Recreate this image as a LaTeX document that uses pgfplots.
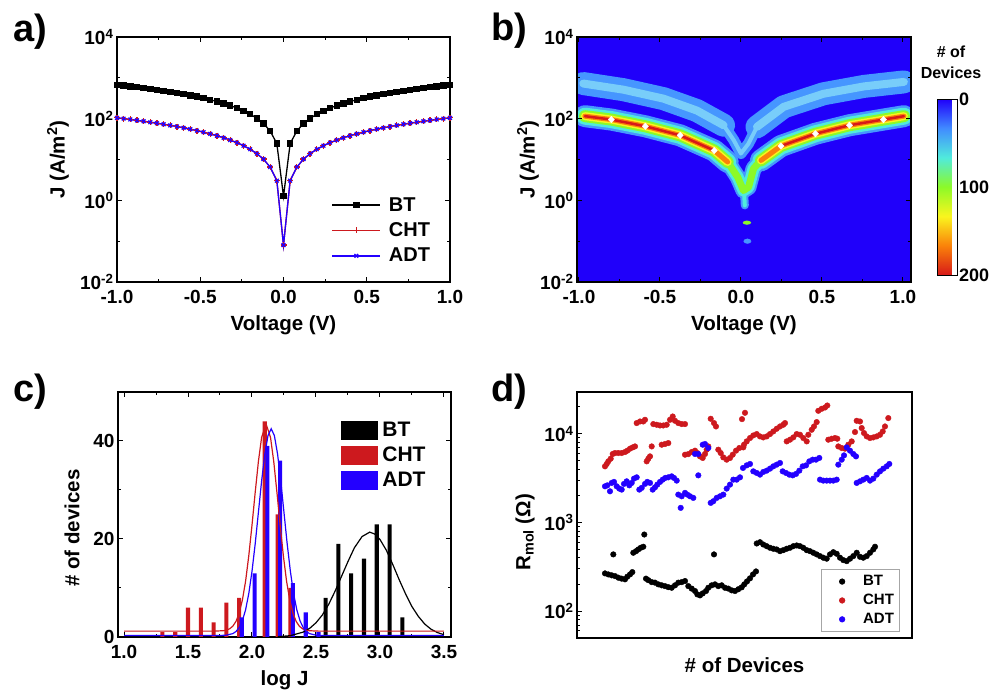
\documentclass[border=0pt]{standalone}
\usepackage{fontspec}
\setmainfont{Liberation Sans}
\usepackage{pgfplots}
\usepackage{pgfplotstable}
\pgfplotsset{compat=1.18}
\definecolor{cred}{RGB}{205,25,30}
\definecolor{cblue}{RGB}{35,0,255}
\definecolor{hmblue}{RGB}{32,0,250}
\definecolor{hmlb}{RGB}{70,150,255}
\definecolor{hmlb2}{RGB}{120,205,250}
\definecolor{hmcyan}{RGB}{80,235,220}
\definecolor{hmgreen}{RGB}{140,250,40}
\definecolor{hmyellow}{RGB}{250,245,30}
\definecolor{hmorange}{RGB}{250,130,10}
\definecolor{hmred}{RGB}{215,25,25}
\pgfplotsset{
  colormap={hmrev}{rgb255=(215,25,25) rgb255=(250,130,10) rgb255=(250,245,30) rgb255=(140,250,40) rgb255=(80,235,220) rgb255=(65,140,255) rgb255=(32,0,250)},
  panel/.style={scale only axis, width=333pt, height=245pt,
    axis line style={line width=1.2pt}, tick style={black, line width=1pt},
    major tick length=5pt, minor tick length=3pt, tick align=inside,
    /pgf/number format/assume math mode=true,
    every tick label/.append style={font=\fontsize{19}{21}\selectfont\bfseries},
    xticklabel style={yshift=-5pt},
    label style={font=\fontsize{20.5}{23}\selectfont\bfseries}},
  band/.style={no markers, line cap=round, line join=round},
}
% panel b: density bands read from the map (V, J)
\pgfplotstableread{
V J
-0.963 115
-0.80 95
-0.59 65
-0.375 39
-0.165 16.6
-0.082 8.7
}\bandL
\pgfplotstableread{
V J
0.124 9.5
0.247 21.4
0.46 42.7
0.67 69
0.88 95
1.006 115
}\bandR
\pgfplotstableread{
V J
-0.165 16.6
-0.082 8.7
-0.02 3.7
0.016 1.74
0.047 2.1
0.078 6.0
0.124 9.5
0.247 21.4
}\bandC
\pgfplotstableread{
V J
0.018 1.9
0.024 0.75
}\stem
\pgfplotstableread{
V J
-0.973 724
-0.726 513
-0.478 309
-0.272 158
-0.107 69
}\upL
\pgfplotstableread{
V J
0.099 63
0.264 195
0.51 407
0.76 617
1.006 794
}\upR
\pgfplotstableread{
V J
-0.107 69
-0.045 30
0.0 14
0.047 24.5
0.099 63
}\upC
\begin{document}
\begin{tikzpicture}
\useasboundingbox (0,0) rectangle (997pt,690pt);
\node[anchor=base west, font=\fontsize{38}{40}\selectfont\bfseries] at (10pt,648pt) {a)};
\node[anchor=base west, font=\fontsize{38}{40}\selectfont\bfseries] at (488pt,649pt) {b)};
\node[anchor=base west, font=\fontsize{38}{40}\selectfont\bfseries] at (10pt,288pt) {c)};
\node[anchor=base west, font=\fontsize{38}{40}\selectfont\bfseries] at (488pt,288pt) {d)};

% ---------------- panel a
\begin{axis}[panel, at={(117pt,408pt)}, anchor=south west,
  ymode=log, xmin=-1, xmax=1, ymin=1e-2, ymax=1e4,
  xtick={-1,-0.5,0,0.5,1}, xticklabels={-1.0,-0.5,0.0,0.5,1.0},
  minor xtick={-0.75,-0.25,0.25,0.75},
  ytick={1e-2,1,1e2,1e4},
  yticklabels={10\textsuperscript{-2},10\textsuperscript{0},10\textsuperscript{2},10\textsuperscript{4}},
  minor ytick={1e-1,1e1,1e3},
  xlabel={Voltage (V)}, ylabel={J (A/m\textsuperscript{2})},
  xlabel style={at={(axis description cs:0.5,-0.1755)}, anchor=center},
  ylabel style={at={(axis description cs:-0.177,0.5)}, anchor=center},
  legend style={draw=none, fill=none, at={(0.635,0.362)}, anchor=north west,
    font=\fontsize{20}{22}\selectfont\bfseries, row sep=6pt, legend cell align=left,
    /tikz/every odd column/.append style={column sep=6pt}},
  legend image code/.code={\draw[mark repeat=2,mark phase=2,#1] plot coordinates {(0pt,0pt) (24pt,0pt) (48pt,0pt)};},
]
\addplot[black, line width=1.3pt, mark=square*, mark size=2.6pt] coordinates {
(-1.00,676)(-0.96,647)(-0.92,621)(-0.88,592)(-0.84,565)(-0.80,537)(-0.76,509)(-0.72,482)(-0.68,455)(-0.64,427)(-0.60,399)(-0.56,372)(-0.52,344)(-0.48,317)(-0.44,290)(-0.40,263)(-0.36,236)(-0.32,209)(-0.28,182)(-0.24,155)(-0.20,129)(-0.16,102)(-0.12,76)(-0.08,50)(-0.04,24.5)(0,1.26)
(0.04,24.5)(0.08,50)(0.12,76)(0.16,102)(0.20,129)(0.24,155)(0.28,182)(0.32,209)(0.36,236)(0.40,263)(0.44,290)(0.48,317)(0.52,344)(0.56,372)(0.60,399)(0.64,427)(0.68,455)(0.72,482)(0.76,509)(0.80,537)(0.84,565)(0.88,592)(0.92,621)(0.96,647)(1.00,676)};
\addlegendentry{BT}
\addplot[cred, line width=1.3pt, mark=+, mark size=3pt] coordinates {
(-1.00,104.7)(-0.96,100)(-0.92,95.5)(-0.88,90.8)(-0.84,86.3)(-0.80,81.8)(-0.76,77.4)(-0.72,72.9)(-0.68,68.5)(-0.64,64.1)(-0.60,59.7)(-0.56,55.3)(-0.52,51.0)(-0.48,46.7)(-0.44,42.4)(-0.40,38.2)(-0.36,34.0)(-0.32,29.9)(-0.28,25.8)(-0.24,21.8)(-0.20,17.8)(-0.16,13.9)(-0.12,10.2)(-0.08,6.5)(-0.04,3.03)(0,0.08)
(0.04,3.03)(0.08,6.5)(0.12,10.2)(0.16,13.9)(0.20,17.8)(0.24,21.8)(0.28,25.8)(0.32,29.9)(0.36,34.0)(0.40,38.2)(0.44,42.4)(0.48,46.7)(0.52,51.0)(0.56,55.3)(0.60,59.7)(0.64,64.1)(0.68,68.5)(0.72,72.9)(0.76,77.4)(0.80,81.8)(0.84,86.3)(0.88,90.8)(0.92,95.5)(0.96,100)(1.00,104.7)};
\addlegendentry{CHT}
\addplot[cblue, line width=1.3pt, mark=x, mark size=2.6pt] coordinates {
(-1.00,104.7)(-0.96,100)(-0.92,95.5)(-0.88,90.8)(-0.84,86.3)(-0.80,81.8)(-0.76,77.4)(-0.72,72.9)(-0.68,68.5)(-0.64,64.1)(-0.60,59.7)(-0.56,55.3)(-0.52,51.0)(-0.48,46.7)(-0.44,42.4)(-0.40,38.2)(-0.36,34.0)(-0.32,29.9)(-0.28,25.8)(-0.24,21.8)(-0.20,17.8)(-0.16,13.9)(-0.12,10.2)(-0.08,6.5)(-0.04,3.03)(0,0.08)
(0.04,3.03)(0.08,6.5)(0.12,10.2)(0.16,13.9)(0.20,17.8)(0.24,21.8)(0.28,25.8)(0.32,29.9)(0.36,34.0)(0.40,38.2)(0.44,42.4)(0.48,46.7)(0.52,51.0)(0.56,55.3)(0.60,59.7)(0.64,64.1)(0.68,68.5)(0.72,72.9)(0.76,77.4)(0.80,81.8)(0.84,86.3)(0.88,90.8)(0.92,95.5)(0.96,100)(1.00,104.7)};
\addlegendentry{ADT}
\end{axis}

% ---------------- panel b
\begin{axis}[panel, width=334pt, at={(577pt,408pt)}, anchor=south west,
  ymode=log, xmin=-1.012, xmax=1.05, ymin=1e-2, ymax=1e4,
  axis background/.style={fill=hmblue}, axis on top,
  xtick={-1,-0.5,0,0.5,1}, xticklabels={-1.0,-0.5,0.0,0.5,1.0},
  minor xtick={-0.75,-0.25,0.25,0.75},
  ytick={1e-2,1,1e2,1e4},
  yticklabels={10\textsuperscript{-2},10\textsuperscript{0},10\textsuperscript{2},10\textsuperscript{4}},
  minor ytick={1e-1,1e1,1e3},
  xlabel={Voltage (V)}, ylabel={J (A/m\textsuperscript{2})},
  xlabel style={at={(axis description cs:0.5,-0.1755)}, anchor=center},
  ylabel style={at={(axis description cs:-0.147,0.5)}, anchor=center},
  colormap name=hmrev, point meta min=0, point meta max=200, colorbar,
  colorbar style={at={(parent axis.north east)}, anchor=north west, xshift=18pt, yshift=-62pt,
    scale only axis, width=20pt, height=176pt, ytick={0,100,200}, yticklabels={200,100,0},
    major tick length=0pt, axis line style={line width=0.6pt},
    yticklabel style={font=\fontsize{18}{20}\selectfont\bfseries, xshift=-2pt}},
]
% upper band (BT)
\addplot[band, hmlb, line width=23pt] table {\upL};
\addplot[band, hmlb, line width=23pt] table {\upR};
\addplot[band, hmlb, line width=11pt] table {\upC};
\addplot[band, hmlb2, line width=8pt] table {\upL};
\addplot[band, hmlb2, line width=8pt] table {\upR};
\addplot[band, hmlb2, line width=4pt] table {\upC};
% main band
\addplot[band, hmlb, line width=8pt] table {\stem};
\addplot[band, hmlb, line width=16pt] table {\bandC};
\addplot[band, hmlb, line width=22pt] table {\bandL};
\addplot[band, hmlb, line width=22pt] table {\bandR};
\addplot[band, hmcyan, line width=4pt] table {\stem};
\addplot[band, hmcyan, line width=12pt] table {\bandC};
\addplot[band, hmcyan, line width=17pt] table {\bandL};
\addplot[band, hmcyan, line width=17pt] table {\bandR};
\addplot[band, hmgreen, line width=7pt] table {\bandC};
\addplot[band, hmgreen, line width=12pt] table {\bandL};
\addplot[band, hmgreen, line width=12pt] table {\bandR};
\addplot[band, hmyellow, line width=8pt] table {\bandL};
\addplot[band, hmyellow, line width=8pt] table {\bandR};
\addplot[band, hmorange, line width=5pt] table {\bandL};
\addplot[band, hmorange, line width=5pt] table {\bandR};
\addplot[band, hmred, line width=2.5pt] coordinates {(-0.963,115)(-0.80,95)(-0.59,65)(-0.375,39)(-0.165,16.6)};
\addplot[band, hmred, line width=2.5pt] coordinates {(0.247,21.4)(0.46,42.7)(0.67,69)(0.88,95)(1.006,115)};
\addplot[only marks, mark=diamond*, mark size=3.2pt, white, mark options={draw=white, xscale=1.3}] coordinates {
(-0.80,95)(-0.59,65)(-0.375,39)(-0.165,16.6)(0.247,21.4)(0.46,42.7)(0.67,69)(0.88,95)};
% isolated spots
\addplot[only marks, mark=*, mark size=2.3pt, hmlb, mark options={xscale=1.6}] coordinates {(0.04,0.1)};
\addplot[only marks, mark=*, mark size=1.8pt, hmgreen, mark options={xscale=2.2}] coordinates {(0.037,0.284)};
\end{axis}
\node[align=center, font=\fontsize{16}{21}\selectfont\bfseries] at (951pt,628pt) {\# of\\Devices};

% ---------------- panel c
\begin{axis}[panel, at={(118pt,53pt)}, anchor=south west,
  xmin=0.953, xmax=3.555, ymin=0, ymax=50,
  xtick={1,1.5,2,2.5,3,3.5}, minor xtick={1.25,1.75,2.25,2.75,3.25},
  ytick={0,20,40}, minor ytick={10,30},
  xticklabel style={/pgf/number format/.cd, fixed, fixed zerofill, precision=1},
  xlabel={log J}, ylabel={\# of devices},
  xlabel style={at={(axis description cs:0.5,-0.1755)}, anchor=center},
  ylabel style={at={(axis description cs:-0.138,0.445)}, anchor=center},
  legend style={draw=none, fill=none, at={(0.66,0.895)}, anchor=north west,
    font=\fontsize{21}{23}\selectfont\bfseries, row sep=5pt, legend cell align=left,
    /tikz/every odd column/.append style={column sep=3pt}},
]
\addplot[ybar, bar width=0.032, bar shift=0pt, fill=black, draw=none, forget plot] coordinates {
(2.575,8)(2.675,19)(2.775,13)(2.875,16)(2.975,23)(3.075,23)(3.175,4)};
\addplot[ybar, bar width=0.032, bar shift=0pt, fill=cred, draw=none, forget plot] coordinates {
(1.3,1)(1.4,1)(1.5,6)(1.6,6)(1.7,3)(1.8,7)(1.9,8)(2.1,44)(2.2,25)(2.3,10)};
\addplot[ybar, bar width=0.032, bar shift=0pt, fill=cblue, draw=none, forget plot] coordinates {
(1.92,4)(2.02,13)(2.12,39)(2.22,36)(2.32,11)(2.42,5)(2.52,1)};
\addplot[black, line width=1.2pt, forget plot] coordinates {
(2.2,0.06)(2.3,0.27)(2.4,1.0)(2.45,1.75)(2.5,2.9)(2.55,4.5)(2.6,6.7)(2.65,9.4)(2.7,12.4)(2.75,15.4)(2.8,18.2)(2.86,20.5)(2.92,21.4)(2.96,21.0)(3.0,19.9)(3.05,17.7)(3.1,14.8)(3.15,11.7)(3.2,8.8)(3.25,6.2)(3.3,4.2)(3.35,2.63)(3.4,1.57)(3.45,0.89)(3.5,0.47)};
\addplot[cred, line width=1.2pt, forget plot] coordinates {
(1.0,1.2)(1.7,1.2)(1.775,1.28)(1.8,1.41)(1.825,1.67)(1.85,2.2)(1.875,3.18)(1.9,4.88)(1.925,7.55)(1.95,11.4)(1.975,16.6)(2.0,22.8)(2.025,29.5)(2.05,35.8)(2.075,40.7)(2.11,43.5)(2.145,40.7)(2.17,35.8)(2.195,29.5)(2.22,22.8)(2.245,16.6)(2.27,11.4)(2.295,7.55)(2.32,4.88)(2.345,3.18)(2.37,2.2)(2.395,1.67)(2.42,1.41)(2.445,1.28)(2.52,1.2)(3.5,1.2)};
\addplot[cblue, line width=1.2pt, forget plot] coordinates {
(1.0,0.3)(1.75,0.31)(1.8,0.37)(1.85,0.69)(1.875,1.12)(1.9,1.93)(1.925,3.33)(1.95,5.56)(1.975,8.87)(2.0,13.4)(2.025,19.0)(2.05,25.4)(2.075,31.8)(2.1,37.3)(2.125,41.1)(2.15,42.5)(2.175,41.1)(2.2,37.3)(2.225,31.8)(2.25,25.4)(2.275,19.0)(2.3,13.4)(2.325,8.87)(2.35,5.56)(2.375,3.33)(2.4,1.93)(2.425,1.12)(2.45,0.69)(2.5,0.37)(2.55,0.31)(3.5,0.3)};
\addlegendimage{legend image code/.code={\fill[black] (0pt,-9pt) rectangle (36pt,9pt);}}
\addlegendentry{BT}
\addlegendimage{legend image code/.code={\fill[cred] (0pt,-9pt) rectangle (36pt,9pt);}}
\addlegendentry{CHT}
\addlegendimage{legend image code/.code={\fill[cblue] (0pt,-9pt) rectangle (36pt,9pt);}}
\addlegendentry{ADT}
\end{axis}

% ---------------- panel d
\begin{axis}[panel, width=335pt, height=246pt, at={(577pt,52pt)}, anchor=south west,
  ymode=log, xmin=0, xmax=335, ymin=50, ymax=29500,
  xtick=\empty, ytick pos=left,
  ytick={1e2,1e3,1e4},
  yticklabels={10\textsuperscript{2},10\textsuperscript{3},10\textsuperscript{4}},
  minor ytick={60,70,80,90,200,300,400,500,600,700,800,900,2000,3000,4000,5000,6000,7000,8000,9000,20000},
  xlabel={\# of Devices}, ylabel={R\textsubscript{mol} (Ω)},
  xlabel style={at={(axis description cs:0.5,-0.11)}, anchor=center},
  ylabel style={at={(axis description cs:-0.155,0.43)}, anchor=center},
  legend style={at={(0.962,0.279)}, anchor=north east, draw=gray!70, line width=0.6pt, fill=white,
    font=\fontsize{15}{17}\selectfont\bfseries, row sep=3pt, legend cell align=left,
    inner xsep=3pt, inner ysep=4pt, /tikz/every odd column/.append style={column sep=11pt}},
  legend image code/.code={\path[draw=none, fill=none] (0pt,0pt) -- (26pt,0pt); \path[#1, draw=none] plot[only marks, mark=*] coordinates {(18pt,0pt)};},
]
\addplot[only marks, mark=*, mark size=2.8pt, black] coordinates {
(28,267)(31.3,260)(34.7,254)(38,249)(41.3,239)(44.7,233)(48,229)(50.3,245)(53,260)(55.3,276)
(36.3,437)
(56.3,456)(59,475)(61.3,497)(63.7,519)(66.3,533)(67.3,732)
(69,233)(71.3,224)(74.7,213)(78,210)(81.3,201)(84.7,196)(88,192)(91.3,187)(94.7,184)(98,196)(101.3,210)(104.7,213)(108,219)(111.3,192)(114.7,180)(118,169)(120.3,155)(123,151)(125.7,159)(129,169)(131.3,184)(134.7,196)(138,201)(141.3,192)(144.7,196)(148,184)(151.3,180)(154.7,172)(158,169)(161.3,177)(164.7,186)(167.3,201)(170,217)(173,235)(176,260)(179,281)
(137,437)
(179.7,580)(183,600)(186.3,565)(189.7,541)(193,519)(196.3,506)(199.7,497)(203,475)(206.3,488)(209.7,506)(213,519)(216.3,541)(219.7,551)(223,541)(226.3,519)(229.7,488)(233,475)(236.3,456)(239.7,437)(243,418)(246.3,401)(249.7,391)(253,437)(256.3,463)(259.7,444)(263,401)(266.3,377)(269.7,367)(273,391)(276.3,418)(279.7,456)(283,411)(286.3,401)(289.7,418)(293,456)(296.3,497)(298,533)};
\addlegendentry{BT}
\addplot[only marks, mark=*, mark size=2.8pt, cred] coordinates {
(28,4290)(29.7,4560)(31.3,4880)(33.7,5230)(35.7,5910)(38,6060)(41.3,6060)(44.7,6060)(48,6220)(50.3,6440)(53,6780)(55.7,7010)(58,7190)
(59.7,13180)(63,13730)(66.3,13730)(68,14350)
(69.7,4880)(71.3,5230)(73,5555)(74.7,7190)
(76.3,12840)(79.7,12610)(83,12380)(86.3,12380)(89.7,12610)(93,14350)(95.7,15630)(98,13980)(101.3,13180)(104.7,12840)(108,12840)
(84.7,7515)(88,7655)(91.3,7850)
(108,5800)(111.3,5890)(114.7,6220)(118,6440)(120.3,6060)(123,5555)(125.7,5330)(128,5910)(129.7,6605)(131.3,7190)
(133.7,14730)(137,13180)(139,12070)
(141.3,6605)(143.7,6060)(146.3,5410)(149.7,5100)(153,5330)(155.7,5800)(159,6440)(162.3,6900)(166.3,7010)
(165,14600)(168,17200)
(167,7515)(169.7,8190)(173,8940)(176.3,9560)(179.7,9910)(183,9320)(186.3,9080)(189.7,9320)(193,9910)(196.3,10600)(199.7,11370)(203,12070)(206.3,12610)(208,13180)
(209.7,8190)(213,8560)(216.3,9080)(219.7,9910)(223,9730)(226.3,8940)(229.7,8190)
(231.3,9730)(234.7,11080)(237,12070)(239.7,13520)
(241.3,18110)(244.7,19080)(248,19730)(250.3,20780)
(251.3,8560)(254.7,8780)(258,8940)(260.3,8780)
(261.3,7190)(264.7,6900)(268,6780)(271.3,7515)(274.7,8190)(278,10440)(279.7,13980)(283,13730)(284.7,11580)(287,10170)(289.7,9320)(293,8940)(296.3,9080)(299.7,9320)(303,9730)(305.7,10600)(308,12070)(311.3,15000)};
\addlegendentry{CHT}
\addplot[only marks, mark=*, mark size=2.8pt, cblue] coordinates {
(28,2555)(30.3,2620)(33,2245)(34.7,2790)(37,2865)(39.7,2555)(42.3,2408)(44.7,2346)(47,2720)(49.7,2908)(52.3,2620)(54.7,2790)(57,3120)(59.7,3226)(62.3,2346)(64.7,2452)(68,2720)(70.3,2865)(73,2790)(75.7,2346)(78,2490)(80.3,2670)(83,2865)(85.7,3038)(88.3,3176)(91.3,3226)(94.7,3310)(97,3176)(99.7,2962)
(101.3,2062)(104.7,1973)(108,2155)(110.3,2062)(113,1973)(116.3,1893)(103.7,1461)
(121.3,3396)
(118,5910)(121.3,5910)(125.7,7515)(128,7655)(131.3,6900)
(133.7,1663)(136.3,1734)(139.7,1893)(143,1973)(146.3,2062)(149.7,2408)(153,2670)(156.3,3038)(159.7,3038)(163,3226)(166,4114)(169.7,4400)(173,4562)(176.3,3767)(179.7,3614)(183,3459)(186.3,3708)(189.7,3835)(193,4040)(196.3,4288)(199.7,4480)(203,4682)(205.7,3767)(209,3614)(212.3,3459)(215.7,3396)(219,3523)(222.3,3835)(225.7,4288)(229,4400)(232.3,4880)(235.7,5100)(239,5100)(242.3,5330)
(243,3038)(246.3,2962)(249.7,2962)(253,2962)(256.3,2962)(259.7,3038)
(261.3,4480)(264.7,5100)(267,5698)(269.7,7010)(273,6440)(276.3,5910)(279,5555)
(279.7,2790)(283,2908)(286.3,3038)(289.7,3176)(293,2962)(296.3,3120)(299.7,3459)(303,3767)(306.3,4040)(309.7,4288)(312.3,4562)};
\addlegendentry{ADT}
\end{axis}
\end{tikzpicture}
\end{document}
